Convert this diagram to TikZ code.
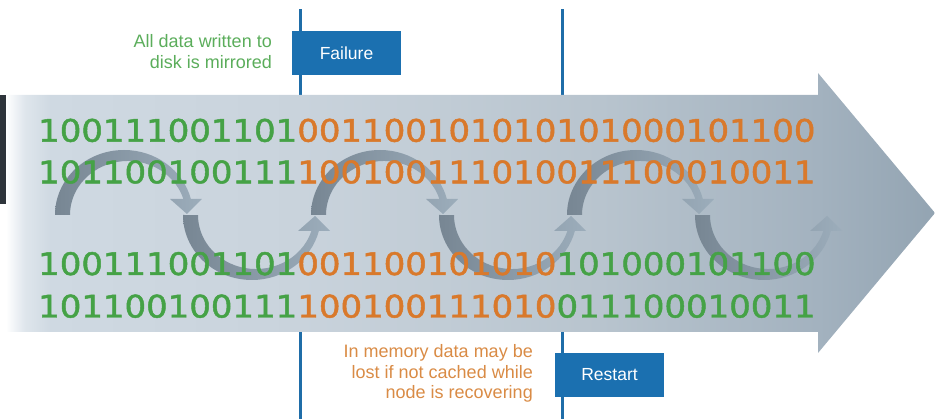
\documentclass[tikz,border=0pt]{standalone}
\usepackage{fontspec}
\setmainfont{Liberation Sans}
\newfontfamily\bitfont{DejaVu Sans}[FakeStretch=1.095, FakeBold=1.5]
\usetikzlibrary{positioning}
\definecolor{bitgreen}{HTML}{45A246}
\definecolor{bitorange}{HTML}{D9792B}
\definecolor{notegreen}{HTML}{5BAD5B}
\definecolor{noteorange}{HTML}{D98B45}
\definecolor{boxblue}{HTML}{1B70B0}
\definecolor{lineblue}{HTML}{1F6DA8}
\definecolor{stripdark}{HTML}{2E343B}
\definecolor{wavedark}{HTML}{778693}
\definecolor{wavelight}{HTML}{9CADBB}
\definecolor{flowA}{HTML}{DFE6EC}
\definecolor{flowB}{HTML}{CFD9E2}
\definecolor{flowC}{HTML}{C9D3DC}
\definecolor{flowD}{HTML}{B8C4CE}
\definecolor{flowE}{HTML}{A3B2BF}
\definecolor{flowF}{HTML}{93A4B2}
\pgfdeclarehorizontalshading{flowshade}{100bp}{color(0bp)=(white); color(25bp)=(white);
  color(26bp)=(flowA); color(27.4bp)=(flowB); color(40.8bp)=(flowC);
  color(57bp)=(flowD); color(68.7bp)=(flowE); color(75bp)=(flowF); color(100bp)=(flowF)}
\newcommand{\gbits}[1]{\textcolor{bitgreen}{#1}}
\newcommand{\obits}[1]{\textcolor{bitorange}{#1}}

\begin{document}
\begin{tikzpicture}[x=1pt, y=-1pt,
    bits/.style={anchor=base west, inner sep=0pt, font=\bitfont\fontsize{31}{31}\selectfont},
    note/.style={anchor=base east, align=right, inner sep=0pt, font=\fontsize{18}{20.5}\selectfont},
    flag/.style={fill=boxblue, text=white, minimum width=109pt, minimum height=44pt, inner sep=0pt, font=\fontsize{17.5}{20}\selectfont},
    marker/.style={draw=lineblue, line width=3pt},
    wave/.style={left color=wavedark, right color=wavelight}]
  \useasboundingbox (0,0) rectangle (935,419);

  \coordinate (failtop) at (300.5,9.5);
  \coordinate (failend) at (300.5,419);
  \coordinate (restarttop) at (562,9.5);
  \coordinate (restartend) at (562,419);
  \draw[marker] (failtop) -- (failend);
  \draw[marker] (restarttop) -- (restartend);

  \fill[stripdark] (0,95) rectangle (6,204);
  \shade[shading=flowshade] (6,95) -- (818,95) -- (818,73) -- (935,213)
    -- (818,353) -- (818,332) -- (6,332) -- cycle;

  \foreach \cx/\flip in {124/-1, 252/1, 380/-1, 508/1, 636/-1, 764/1}
    \shade[wave, shift={(\cx,215)}, yscale=\flip]
      (-69,0) arc[start angle=180, end angle=14.25, x radius=69, y radius=65]
      -- (78,16) -- (63,1) -- (46,16) -- (59.4,16)
      arc[start angle=17.2, end angle=180, x radius=58, y radius=54] -- cycle;

  \node[bits] (row1) at (38,141.7) {\gbits{100111001101}\obits{001100101010101000101100}};
  \node[bits] (row2) at (38,183.3) {\gbits{101100100111}\obits{100100111010011100010011}};
  \node[bits] (row3) at (38,275) {\gbits{100111001101}\obits{001100101010}\gbits{101000101100}};
  \node[bits] (row4) at (38,317.5) {\gbits{101100100111}\obits{100100111010}\gbits{011100010011}};

  \node[flag] (failure) at (346.5,53) {Failure};
  \node[flag] (restart) at (609.5,374.7) {Restart};

  \node[note, text=notegreen] (mirrornote) at (272,68.3) {All data written to\\disk is mirrored};
  \node[note, text=noteorange] (lostnote) at (533,399) {In memory data may be\\lost if not cached while\\node is recovering};
\end{tikzpicture}
\end{document}
